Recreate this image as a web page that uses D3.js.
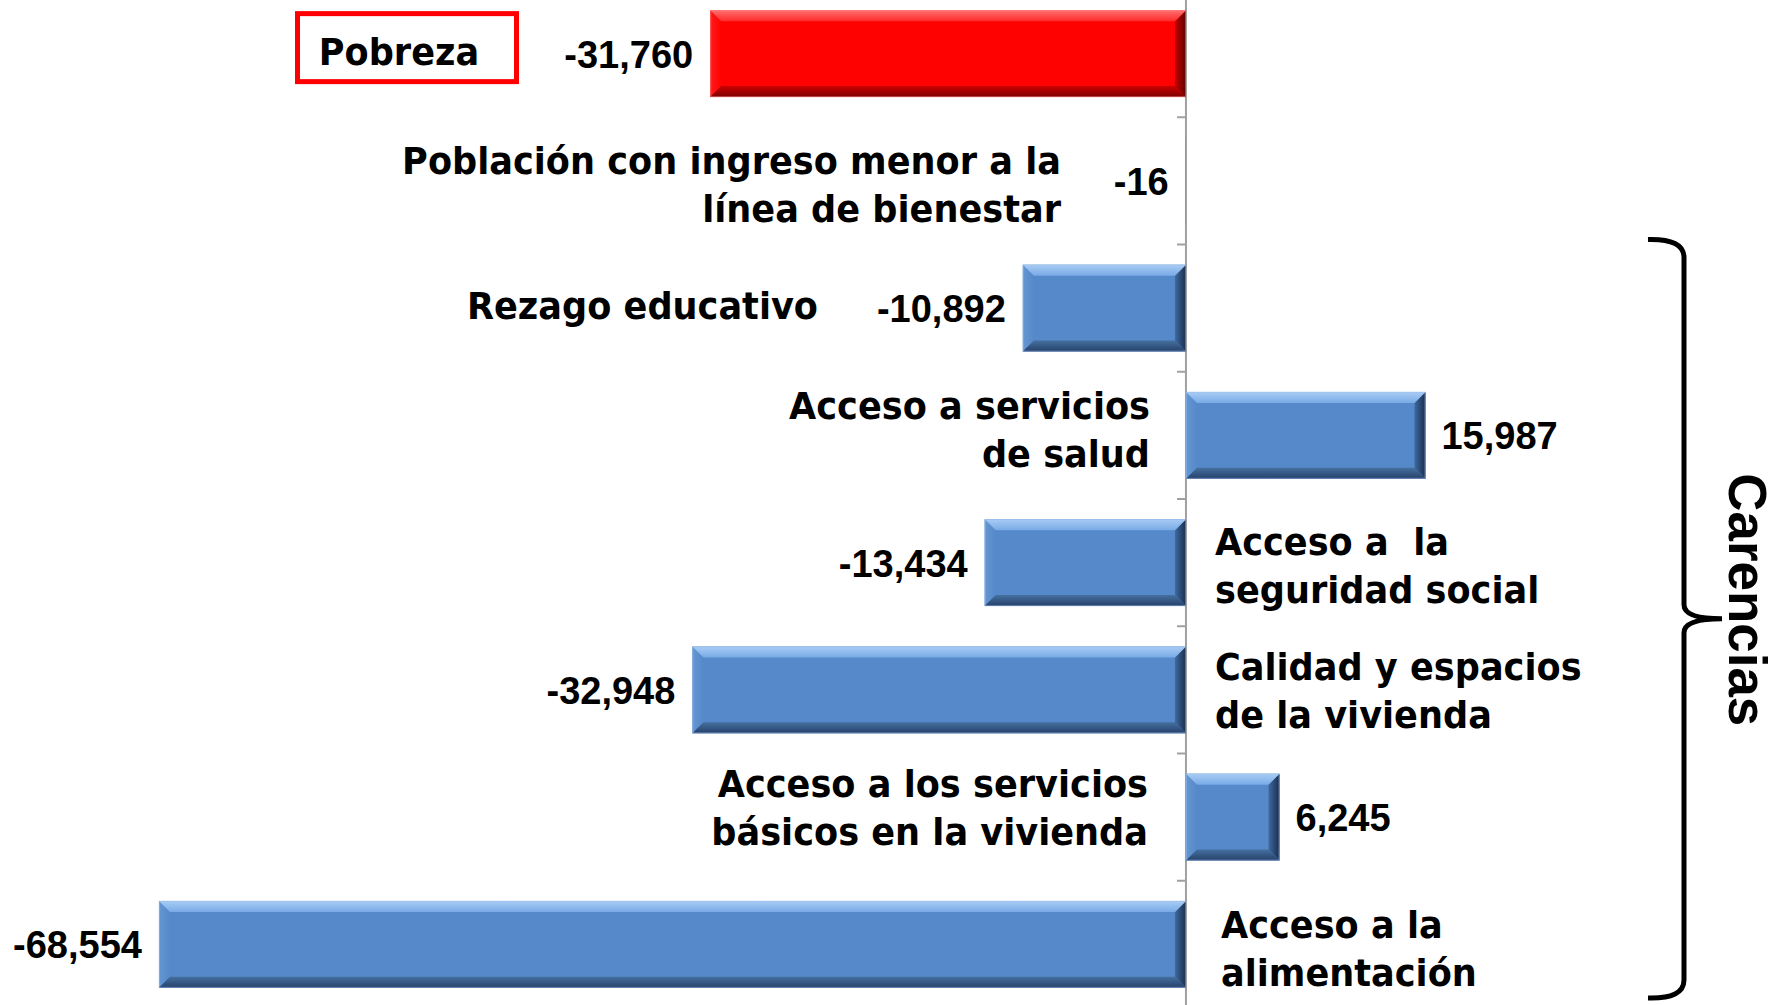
<!DOCTYPE html>
<html><head><meta charset="utf-8">
<script src="https://cdn.jsdelivr.net/npm/d3@7"></script>
<style>html,body{margin:0;padding:0;background:#fff;overflow:hidden}text{white-space:pre}</style>
</head><body><svg id="c" width="1779" height="1005"></svg>
<script>
// ---------- data ----------
const categories = [
  "Pobreza",
  "Población con ingreso menor a la línea de bienestar",
  "Rezago educativo",
  "Acceso a servicios de salud",
  "Acceso a  la seguridad social",
  "Calidad y espacios de la vivienda",
  "Acceso a los servicios básicos en la vivienda",
  "Acceso a la alimentación"
];
const labelLines = [
  ["Pobreza"],
  ["Población con ingreso menor a la", "línea de bienestar"],
  ["Rezago educativo"],
  ["Acceso a servicios", "de salud"],
  ["Acceso a  la", "seguridad social"],
  ["Calidad y espacios", "de la vivienda"],
  ["Acceso a los servicios", "básicos en la vivienda"],
  ["Acceso a la", "alimentación"]
];
const values = [-31760, -16, -10892, 15987, -13434, -32948, 6245, -68554];
const highlighted = ["Pobreza"];
const groupTitle = "Carencias";
const groupFirst = "Rezago educativo";
const groupLast = "Acceso a la alimentación";

// ---------- layout (not data) ----------
const labelLayout = [
  {anchor: "middle", x: 399, dy: -2.5, boxX: 407},
  {anchor: "end", x: 1061, dy: 4},
  {anchor: "end", x: 818, dy: -3},
  {anchor: "end", x: 1150, dy: -6},
  {anchor: "start", x: 1215, dy: 3},
  {anchor: "start", x: 1215, dy: 1},
  {anchor: "end", x: 1148, dy: -10},
  {anchor: "start", x: 1221, dy: 4}
];

const svg = d3.select("#c");
const x = d3.scaleLinear().domain([-70000, 30000]).range([137.3, 1635.4]);
const y = d3.scaleBand().domain(categories).range([-10, 1008]).paddingInner(0.317).paddingOuter(0.1585);
const step = y.step();
const bandStart = d => y(d) - step * y.paddingInner() / 2;
const bandCenter = d => y(d) + y.bandwidth() / 2;

// ---------- gradients ----------
const defs = svg.append("defs");
function grad(id, vertical, stops) {
  const g = defs.append("linearGradient").attr("id", id)
    .attr("x1", 0).attr("y1", 0).attr("x2", vertical ? 0 : 1).attr("y2", vertical ? 1 : 0);
  stops.forEach((c, i) => g.append("stop").attr("offset", i / (stops.length - 1)).attr("stop-color", c));
}
const palettes = {
  blue: {base: "#5589c9", top: ["#a9cdf5", "#79aae6"], bottom: ["#45709f", "#26406a"], left: ["#6596d3", "#5589c9"], right: ["#3e6aa0", "#1a2d4c"]},
  red: {base: "#fe0202", top: ["#ff7070", "#ff2b2b"], bottom: ["#cc0000", "#7d0000"], left: ["#ff1c1c", "#fe0202"], right: ["#c40000", "#5e0000"]}
};
Object.entries(palettes).forEach(([k, p]) => {
  grad(k + "Top", true, p.top);
  grad(k + "Bottom", true, p.bottom);
  grad(k + "Left", false, p.left);
  grad(k + "Right", false, p.right);
});

// ---------- axis ----------
const x0 = x(0);
const axis = svg.append("g");
axis.append("line").attr("x1", x0).attr("x2", x0).attr("y1", 0).attr("y2", 1005)
  .attr("stroke", "#a0a0a0").attr("stroke-width", 2);
categories.slice(1).forEach(c => {
  const yy = bandStart(c);
  axis.append("line").attr("x1", x0 - 9).attr("x2", x0).attr("y1", yy).attr("y2", yy)
    .attr("stroke", "#a0a0a0").attr("stroke-width", 2);
});

// ---------- bars ----------
const bars = svg.append("g");
categories.forEach((c, i) => {
  const v = values[i];
  const xa = Math.min(x(v), x0), xb = Math.max(x(v), x0);
  const y0 = y(c), y1 = y(c) + y.bandwidth();
  const w = xb - xa, h = y1 - y0;
  const k = highlighted.includes(c) ? "red" : "blue";
  const g = bars.append("g");
  g.append("rect").attr("x", xa).attr("y", y0).attr("width", w).attr("height", h).attr("fill", palettes[k].base);
  const b = Math.min(11, w / 2, h / 2);
  if (w < 1) return;
  const poly = (pts, fill) => g.append("polygon").attr("points", pts.map(p => p.join(",")).join(" ")).attr("fill", fill);
  poly([[xa, y0], [xa + b, y0 + b], [xa + b, y1 - b], [xa, y1]], `url(#${k}Left)`);
  poly([[xb, y0], [xb, y1], [xb - b, y1 - b], [xb - b, y0 + b]], `url(#${k}Right)`);
  poly([[xa, y0], [xb, y0], [xb - b, y0 + b], [xa + b, y0 + b]], `url(#${k}Top)`);
  poly([[xa + b, y1 - b], [xb - b, y1 - b], [xb, y1], [xa, y1]], `url(#${k}Bottom)`);
  g.append("rect").attr("x", xa + 0.5).attr("y", y0 + 0.5).attr("width", w - 1).attr("height", h - 1)
    .attr("fill", "none").attr("stroke", k === "red" ? "#ff9a9a" : "#9cc0ea").attr("stroke-opacity", 0.5).attr("stroke-width", 1);
});

// ---------- value labels ----------
const fmt = v => d3.format(",")(v).replace("\u2212", "-");
const vals = svg.append("g").attr("font-family", "'Liberation Sans', Arial, sans-serif")
  .attr("font-weight", "bold").attr("font-size", 38).attr("fill", "#000");
categories.forEach((c, i) => {
  const v = values[i];
  vals.append("text")
    .attr("x", v < 0 ? x(v) - 17 : x(v) + 16)
    .attr("y", bandCenter(c) + 14)
    .attr("text-anchor", v < 0 ? "end" : "start")
    .text(fmt(v));
});

// ---------- category labels ----------
const labs = svg.append("g").attr("font-family", "'DejaVu Sans', Verdana, sans-serif")
  .attr("font-weight", "bold").attr("font-size", 37).attr("fill", "#000");
categories.forEach((c, i) => {
  const L = labelLayout[i];
  const lines = labelLines[i];
  lines.forEach((t, j) => {
    const cy = bandCenter(c) + L.dy + (j - (lines.length - 1) / 2) * 48;
    labs.append("text")
      .attr("transform", `translate(${L.x},${cy + 13.5}) scale(0.95,1)`)
      .attr("text-anchor", L.anchor)
      .text(t);
  });
  if (highlighted.includes(c)) {
    const yc = bandCenter(c) - 6;
    svg.append("rect").attr("x", L.boxX - 109.5).attr("y", yc - 34).attr("width", 219).attr("height", 68)
      .attr("fill", "none").attr("stroke", "#fe0000").attr("stroke-width", 5);
  }
});

// ---------- brace + group title ----------
const braceTop = bandStart(groupFirst) - 5;
const braceBot = bandStart(groupLast) + step - 10;
const braceMid = (braceTop + braceBot) / 2;
const bx = 1684, bl = 1648, tip = 1722;
svg.append("path")
  .attr("d", `M${bl},${braceTop} Q${bx},${braceTop - 1} ${bx},${braceTop + 18} L${bx},${braceMid - 14} Q${bx},${braceMid} ${tip},${braceMid} Q${bx},${braceMid} ${bx},${braceMid + 14} L${bx},${braceBot - 18} Q${bx},${braceBot + 1} ${bl},${braceBot}`)
  .attr("fill", "none").attr("stroke", "#000").attr("stroke-width", 5);
svg.append("text")
  .attr("transform", `translate(1729,${braceMid - 19}) rotate(90) scale(0.98,1)`)
  .attr("text-anchor", "middle")
  .attr("font-family", "'Liberation Sans', Arial, sans-serif").attr("font-weight", "bold").attr("font-size", 54)
  .text(groupTitle);
</script></body></html>
